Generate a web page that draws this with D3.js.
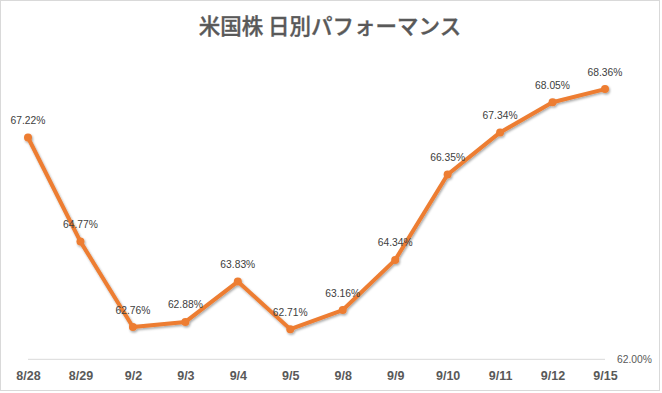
<!DOCTYPE html>
<html><head><meta charset="utf-8">
<script src="https://cdn.jsdelivr.net/npm/d3@7"></script>
<style>
html,body{margin:0;padding:0;background:#fff;}
svg{display:block;}
</style>
</head><body>
<svg id="chart" width="662" height="393"></svg>
<script>
const title = "米国株 日別パフォーマンス";
const categories = ["8/28","8/29","9/2","9/3","9/4","9/5","9/8","9/9","9/10","9/11","9/12","9/15"];
const values = [67.22,64.77,62.76,62.88,63.83,62.71,63.16,64.34,66.35,67.34,68.05,68.36];
const yDomain = [62, 70];
const baselineLabel = "62.00%";

const svg = d3.select("#chart");
const defs = svg.append("defs");
const f = defs.append("filter").attr("id","shadow").attr("x","-20%").attr("y","-20%").attr("width","140%").attr("height","140%");
f.append("feDropShadow").attr("dx",1).attr("dy",1.5).attr("stdDeviation",1.2).attr("flood-color","#000").attr("flood-opacity",0.35);

svg.append("rect").attr("x",0.5).attr("y",0.5).attr("width",659).attr("height",390)
  .attr("fill","#fff").attr("stroke","#d9d9d9");

svg.append("text").attr("x",330).attr("y",33.5).attr("text-anchor","middle")
  .attr("font-family","'Noto Sans CJK JP', sans-serif").attr("font-size",21.5)
  .attr("font-weight",500).attr("fill","#595959")
  .attr("stroke","#595959").attr("stroke-width",0.35)
  .text(title);

const x = d3.scalePoint().domain(categories).range([28, 605]);
const y = d3.scaleLinear().domain(yDomain).range([359.3, 19.4]);

// baseline gridline
svg.append("line").attr("x1",x.range()[0]).attr("x2",x.range()[1])
  .attr("y1",y(yDomain[0])).attr("y2",y(yDomain[0]))
  .attr("stroke","#d9d9d9").attr("stroke-width",1);

svg.append("text").attr("x",617).attr("y",y(yDomain[0])+3.8)
  .attr("font-family","'Liberation Sans', Arial, sans-serif").attr("font-size",10.3)
  .attr("fill","#595959").text(baselineLabel);

// x axis labels
const xAxis = d3.axisBottom(x).tickSize(0).tickPadding(0);
const gx = svg.append("g").attr("transform",`translate(0,${371})`).call(xAxis);
gx.select(".domain").remove();
gx.selectAll("text").attr("font-family","'Liberation Sans', Arial, sans-serif")
  .attr("font-size",12.5).attr("font-weight","bold").attr("fill","#595959");

const data = categories.map((c,i)=>({c, v: values[i]}));
const g = svg.append("g").attr("filter","url(#shadow)");
g.append("path").datum(data)
  .attr("d", d3.line().x(d=>x(d.c)).y(d=>y(d.v)))
  .attr("fill","none").attr("stroke","#ED7D31").attr("stroke-width",4)
  .attr("stroke-linejoin","round");
g.selectAll("circle").data(data).join("circle")
  .attr("cx",d=>x(d.c)).attr("cy",d=>y(d.v)).attr("r",4).attr("fill","#ED7D31");

svg.selectAll("text.lbl").data(data).join("text").attr("class","lbl")
  .attr("x",d=>x(d.c)).attr("y",d=>y(d.v)-13.5).attr("text-anchor","middle")
  .attr("font-family","'Liberation Sans', Arial, sans-serif").attr("font-size",10.3)
  .attr("fill","#404040").text(d=>d.v.toFixed(2)+"%");
</script>
</body></html>
